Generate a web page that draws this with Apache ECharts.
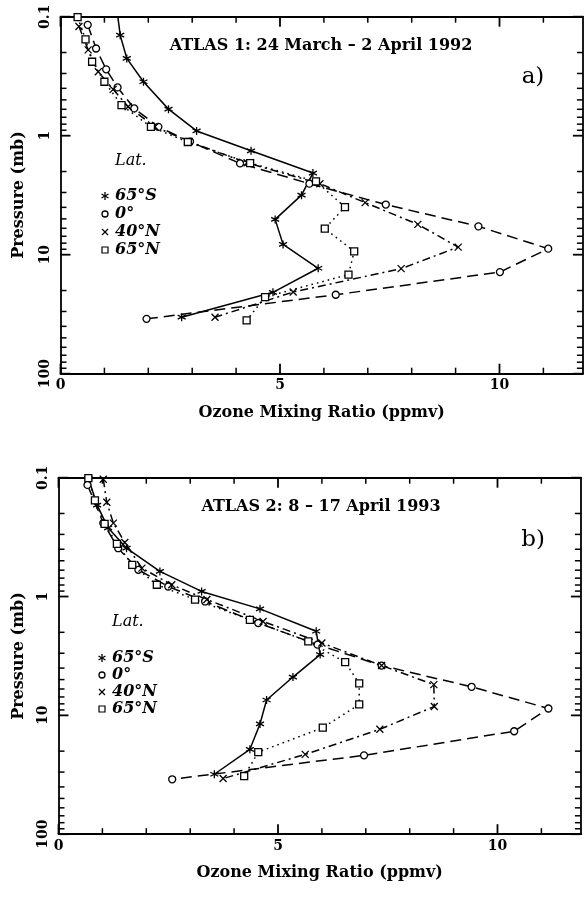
<!DOCTYPE html>
<html><head><meta charset="utf-8">
<script src="https://cdn.jsdelivr.net/npm/echarts@6/dist/echarts.min.js"></script>
<style>html,body{margin:0;padding:0;background:#fff}#c{width:586px;height:898px}</style>
</head><body><div id="c"></div><script>
// ---------- data ----------
const latNames = ['65°S', '0°', '40°N', '65°N'];
const xTickLabels = [0, 5, 10];
const xTickPositions = [0, 1, 2, 3, 4, 5, 6, 7, 8, 9, 10, 11];
const yTickLabels = [0.1, 1, 10, 100];
const yTickPositions = [0.1,0.2,0.3,0.4,0.5,0.6,0.7,0.8,0.9,1,2,3,4,5,6,7,8,9,10,20,30,40,50,60,70,80,90,100];
const titleA = 'ATLAS 1: 24 March – 2 April 1992';
const titleB = 'ATLAS 2: 8 – 17 April 1993';

// Panel a (ATLAS 1)
const a_x_65S = [1.29,1.36,1.51,1.89,2.46,3.10,4.34,5.75,5.49,4.89,5.07,5.87,4.84,2.76];
const a_p_65S = [0.09,0.143,0.224,0.352,0.598,0.912,1.34,2.06,3.16,5.05,8.19,13.0,20.7,33.5];
const a_x_0   = [0.62,0.81,1.04,1.30,1.68,2.23,2.95,4.09,5.67,7.41,9.52,11.11,10.01,6.27,1.96];
const a_p_0   = [0.117,0.185,0.277,0.393,0.59,0.843,1.12,1.71,2.53,3.79,5.78,8.9,14.0,21.7,34.6];
const a_x_40N = [0.42,0.63,0.86,1.20,1.54,2.15,2.93,4.25,5.91,6.94,8.14,9.06,7.76,5.30,3.52];
const a_p_40N = [0.121,0.19,0.29,0.408,0.572,0.84,1.12,1.69,2.53,3.65,5.56,8.63,13.1,20.6,33.5];
const a_x_65N = [0.39,0.57,0.72,1.00,1.39,2.06,2.90,4.32,5.82,6.48,6.02,6.69,6.56,4.66,4.24];
const a_p_65N = [0.101,0.155,0.239,0.352,0.553,0.843,1.13,1.70,2.42,3.98,6.04,9.38,14.7,22.7,35.7];

// Panel b (ATLAS 2)
const b_x_65S = [0.68,0.88,1.13,1.55,2.31,3.26,4.59,5.87,5.96,5.34,4.74,4.59,4.36,3.55];
const b_p_65S = [0.101,0.17,0.264,0.392,0.615,0.906,1.27,1.96,3.08,4.76,7.43,11.8,19.3,31.3];
const b_x_0   = [0.66,1.02,1.36,1.82,2.50,3.34,4.55,5.90,7.36,9.41,11.16,10.38,6.96,2.59];
const b_p_0   = [0.115,0.241,0.392,0.596,0.823,1.10,1.67,2.54,3.81,5.75,8.75,13.6,21.7,34.5];
const b_x_40N = [1.02,1.10,1.25,1.51,1.90,2.58,3.38,4.66,6.00,7.36,8.55,8.56,7.32,5.62,3.75];
const b_p_40N = [0.103,0.161,0.241,0.351,0.577,0.796,1.06,1.62,2.46,3.81,5.51,8.42,13.1,21.3,34.0];
const b_x_65N = [0.68,0.83,1.05,1.33,1.68,2.24,3.11,4.36,5.69,6.53,6.85,6.85,6.02,4.55,4.23];
const b_p_65N = [0.101,0.155,0.245,0.36,0.541,0.796,1.06,1.57,2.38,3.57,5.37,8.09,12.7,20.4,32.4];

// ---------- styling ----------
const FONT = 'DejaVu Serif';
const XMAX = 11.9, YMIN = 0.1, YMAX = 100;
const black = '#000';
const grids = [
  {left: 60.5, top: 16.7, width: 522.4, height: 357},
  {left: 58.5, top: 477.7, width: 522.4, height: 356.5}
];
const SYM = {
  '65°S': 'path://M5,0L5,10M0.67,2.5L9.33,7.5M0.67,7.5L9.33,2.5',
  '0°': 'circle',
  '40°N': 'path://M0,0L10,10M0,10L10,0',
  '65°N': 'rect'
};
const SYMSIZE = {'65°S': 8, '0°': 7, '40°N': 7, '65°N': 7};
const DASH = {'65°S': 'solid', '0°': [11, 6], '40°N': [8, 4, 2, 4], '65°N': [1.6, 4]};

const xAxes = [], yAxes = [];
grids.forEach((g, gi) => {
  ['bottom', 'top'].forEach(pos => {
    const main = pos === 'bottom';
    xAxes.push({
      gridIndex: gi, type: 'value', min: 0, max: XMAX, interval: 5, position: pos, splitLine: {show: false},
      axisLine: {show: true, onZero: false, lineStyle: {color: black, width: 1.8}},
      axisTick: {show: false},
      axisLabel: main ? {color: black, fontFamily: FONT, fontWeight: 'bold', fontSize: 14, margin: 5,
        showMaxLabel: false,
        formatter: v => (xTickLabels.indexOf(+v) >= 0 ? String(v) : '')} : {show: false},
      name: main ? 'Ozone Mixing Ratio (ppmv)' : '', nameLocation: 'middle', nameGap: 31,
      nameTextStyle: {color: black, fontFamily: FONT, fontWeight: 'bold', fontSize: 16}
    });
  });
  ['left', 'right'].forEach(pos => {
    const main = pos === 'left';
    yAxes.push({
      gridIndex: gi, type: 'log', logBase: 10, min: YMIN, max: YMAX, inverse: true, position: pos,
      splitLine: {show: false},
      axisLine: {show: true, onZero: false, lineStyle: {color: black, width: 1.8}},
      axisTick: {show: false},
      axisLabel: main ? {color: black, fontFamily: FONT, fontWeight: 'bold', fontSize: 14, rotate: 90, margin: 8,
        formatter: v => { const n = +(+v).toPrecision(3); return yTickLabels.indexOf(n) >= 0 ? String(n) : ''; }} : {show: false}
    });
  });
});

function mk(name, xs, ps, gi) {
  const data = xs.map((v, i) => [v, ps[i]]);
  return {
    type: 'line', name: name, data: data,
    xAxisIndex: gi * 2, yAxisIndex: gi * 2,
    symbol: SYM[name], symbolSize: SYMSIZE[name], showAllSymbol: true,
    lineStyle: {color: black, width: 1.5, type: DASH[name]},
    itemStyle: {color: '#fff', borderColor: black, borderWidth: 1.3},
    clip: true, z: 3
  };
}
const series = [
  mk('65°S', a_x_65S, a_p_65S, 0), mk('0°', a_x_0, a_p_0, 0), mk('40°N', a_x_40N, a_p_40N, 0), mk('65°N', a_x_65N, a_p_65N, 0),
  mk('65°S', b_x_65S, b_p_65S, 1), mk('0°', b_x_0, b_p_0, 1), mk('40°N', b_x_40N, b_p_40N, 1), mk('65°N', b_x_65N, b_p_65N, 1)
];

// inward tick marks on all four sides, placed through the axes' own scales
function tickSeries(gi, isX, edgeValue, dir) {
  const positions = isX ? xTickPositions : yTickPositions;
  return {
    type: 'custom', xAxisIndex: gi * 2, yAxisIndex: gi * 2, clip: false, silent: true, z: 5,
    data: positions.map(v => (isX ? [v, 1] : [1, v])),
    renderItem: (params, api) => {
      const v = api.value(isX ? 0 : 1);
      const major = isX ? (v % 5 === 0) : (yTickLabels.indexOf(v) >= 0);
      const len = (major ? 10 : 6) * dir;
      const c = api.coord(isX ? [v, edgeValue] : [edgeValue, v]);
      const shape = isX ? {x1: c[0], y1: c[1], x2: c[0], y2: c[1] + len}
                        : {x1: c[0], y1: c[1], x2: c[0] + len, y2: c[1]};
      return {type: 'line', shape: shape, style: {stroke: black, lineWidth: major ? 1.8 : 1.5}};
    }
  };
}
grids.forEach((g, gi) => {
  series.push(tickSeries(gi, true, YMAX, -1));   // bottom
  series.push(tickSeries(gi, true, YMIN, 1));    // top
  series.push(tickSeries(gi, false, 0, 1));      // left
  series.push(tickSeries(gi, false, XMAX, -1));  // right
});

// ---------- annotations ----------
function txt(x, y, text, font, extra) {
  return {type: 'text', x: x, y: y, style: Object.assign({text: text, font: font, fill: black,
    align: 'left', verticalAlign: 'middle'}, extra || {})};
}
function legendSymbol(name, cx, cy) {
  const ls = {stroke: black, lineWidth: 1.3};
  if (name === '65°S') {
    return [
      {type: 'line', shape: {x1: cx, y1: cy - 4, x2: cx, y2: cy + 4}, style: ls},
      {type: 'line', shape: {x1: cx - 3.5, y1: cy - 2, x2: cx + 3.5, y2: cy + 2}, style: ls},
      {type: 'line', shape: {x1: cx - 3.5, y1: cy + 2, x2: cx + 3.5, y2: cy - 2}, style: ls}
    ];
  }
  if (name === '0°') return [{type: 'circle', shape: {cx: cx, cy: cy, r: 3}, style: {fill: '#fff', stroke: black, lineWidth: 1.3}}];
  if (name === '40°N') return [
    {type: 'line', shape: {x1: cx - 3, y1: cy - 3, x2: cx + 3, y2: cy + 3}, style: ls},
    {type: 'line', shape: {x1: cx - 3, y1: cy + 3, x2: cx + 3, y2: cy - 3}, style: ls}
  ];
  return [{type: 'rect', shape: {x: cx - 3, y: cy - 3, width: 6, height: 6}, style: {fill: '#fff', stroke: black, lineWidth: 1.2}}];
}
const graphic = [];
const panelAnn = [
  {title: titleA, tx: 321, ty: 46, tag: 'a)', gx: 533, gy: 77, latY: 161, ly: [196, 214, 232, 250], yc: 195, sx: 105},
  {title: titleB, tx: 321, ty: 507, tag: 'b)', gx: 533, gy: 540, latY: 622, ly: [658, 675, 692, 709], yc: 656, sx: 102}
];
panelAnn.forEach(p => {
  graphic.push(txt(p.tx, p.ty, p.title, 'bold 16px "' + FONT + '"', {align: 'center'}));
  graphic.push(txt(p.gx, p.gy, p.tag, '23px "' + FONT + '"', {align: 'center'}));
  graphic.push(txt(p.sx + 10, p.latY, 'Lat.', 'italic 16px "' + FONT + '"'));
  latNames.forEach((n, i) => {
    legendSymbol(n, p.sx, p.ly[i]).forEach(e => graphic.push(e));
    graphic.push(txt(p.sx + 10, p.ly[i], n, 'italic bold 16px "' + FONT + '"'));
  });
  graphic.push({type: 'text', x: 19, y: p.yc, rotation: Math.PI / 2,
    style: {text: 'Pressure (mb)', font: 'bold 16px "' + FONT + '"', fill: black, align: 'center', verticalAlign: 'middle'}});
});

const chart = echarts.init(document.getElementById('c'), null, {renderer: 'canvas'});
chart.setOption({
  animation: false,
  backgroundColor: '#fff',
  grid: grids,
  xAxis: xAxes,
  yAxis: yAxes,
  series: series,
  graphic: graphic
});
</script></body></html>
